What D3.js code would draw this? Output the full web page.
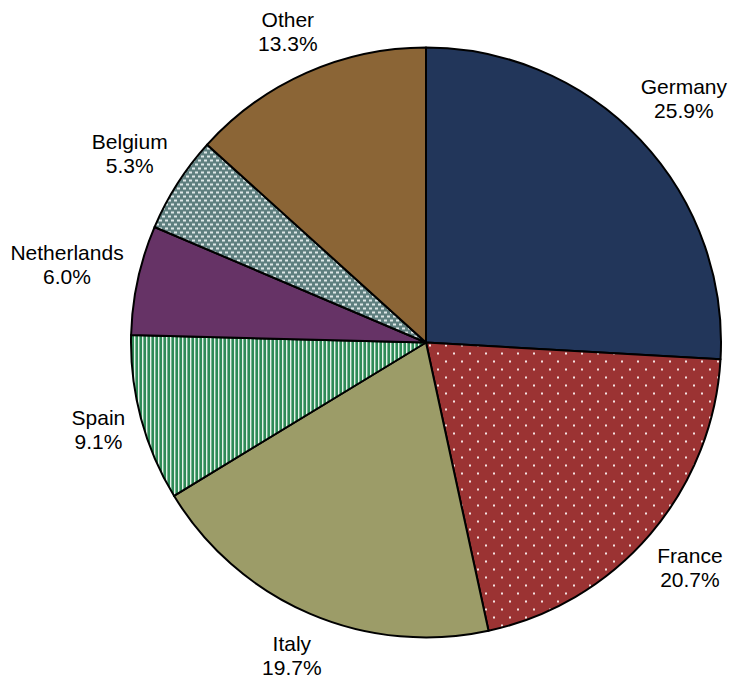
<!DOCTYPE html>
<html>
<head>
<meta charset="utf-8">
<script src="https://cdn.jsdelivr.net/npm/d3@7"></script>
<style>
  html, body { margin: 0; padding: 0; background: #fff; }
  svg { display: block; }
  .lbl { font-family: "Liberation Sans", Arial, sans-serif; font-size: 21px; fill: #000; }
</style>
</head>
<body>
<svg id="chart" width="736" height="679"></svg>
<script>
// Share of total, by country (percent), clockwise from 12 o'clock
const countries = ["Germany", "France", "Italy", "Spain", "Netherlands", "Belgium", "Other"];
const shares    = [25.9, 20.7, 19.7, 9.1, 6.0, 5.3, 13.3];
const fills     = ["#22365a", "url(#dots)", "#9c9c68", "url(#stripes)", "#663366", "url(#bricks)", "#8b6536"];

const cx = 426, cy = 342.5, r = 295, gap = 12, lineGap = 24;

const svg = d3.select("#chart");
const defs = svg.append("defs");

// red with staggered white dots
const dots = defs.append("pattern").attr("id", "dots")
  .attr("patternUnits", "userSpaceOnUse").attr("width", 16).attr("height", 16);
dots.append("rect").attr("width", 16).attr("height", 16).attr("fill", "#9b3333");
dots.append("rect").attr("x", 3).attr("y", 2).attr("width", 2).attr("height", 2).attr("fill", "#f5e2e2");
dots.append("rect").attr("x", 11).attr("y", 10).attr("width", 2).attr("height", 2).attr("fill", "#f5e2e2");

// green with thin vertical light stripes
const stripes = defs.append("pattern").attr("id", "stripes")
  .attr("patternUnits", "userSpaceOnUse").attr("width", 4).attr("height", 4);
stripes.append("rect").attr("width", 4).attr("height", 4).attr("fill", "#2e8b57");
stripes.append("rect").attr("x", 0).attr("width", 1.4).attr("height", 4).attr("fill", "#e6f3ea");

// grey-teal with small staggered light bricks
const bricks = defs.append("pattern").attr("id", "bricks")
  .attr("patternUnits", "userSpaceOnUse").attr("width", 6).attr("height", 8);
bricks.append("rect").attr("width", 6).attr("height", 8).attr("fill", "#5f7f7f");
bricks.append("rect").attr("x", 0).attr("y", 1).attr("width", 3).attr("height", 2).attr("fill", "#dfe8e8");
bricks.append("rect").attr("x", 3).attr("y", 5).attr("width", 3).attr("height", 2).attr("fill", "#dfe8e8");

const data = countries.map((c, i) => ({ name: c, value: shares[i], fill: fills[i] }));

const pie = d3.pie().value(d => d.value).sort(null);
const arcs = pie(data);
const arc = d3.arc().innerRadius(0).outerRadius(r);

const g = svg.append("g").attr("transform", `translate(${cx},${cy})`);

g.selectAll("path.slice").data(arcs).join("path")
  .attr("class", "slice")
  .attr("d", arc)
  .attr("fill", d => d.data.fill)
  .attr("stroke", "#000")
  .attr("stroke-width", 2)
  .attr("stroke-linejoin", "round");

// two-line labels: the text block sits just outside the rim, pushed out by its own size
g.selectAll("text.lbl").data(arcs).join("text")
  .attr("class", "lbl")
  .attr("text-anchor", "middle")
  .each(function(d) {
    const t = d3.select(this);
    const l1 = t.append("tspan").attr("x", 0).attr("y", 0).text(d.data.name);
    const l2 = t.append("tspan").attr("x", 0).attr("y", lineGap).text(d3.format(".1f")(d.data.value) + "%");
    const bb = this.getBBox();
    const hw = bb.width / 2, hh = bb.height / 2;
    const a = (d.startAngle + d.endAngle) / 2;
    const s = Math.sin(a), c = Math.cos(a);
    const R = r + gap + hw * Math.abs(s) + hh * Math.abs(c);
    const x = R * s, yc = -R * c;
    // baseline of the first line so that the block is centred on (x, yc)
    const y1 = yc - (bb.y + hh);
    l1.attr("x", x).attr("y", y1);
    l2.attr("x", x).attr("y", y1 + lineGap);
  });
</script>
</body>
</html>
